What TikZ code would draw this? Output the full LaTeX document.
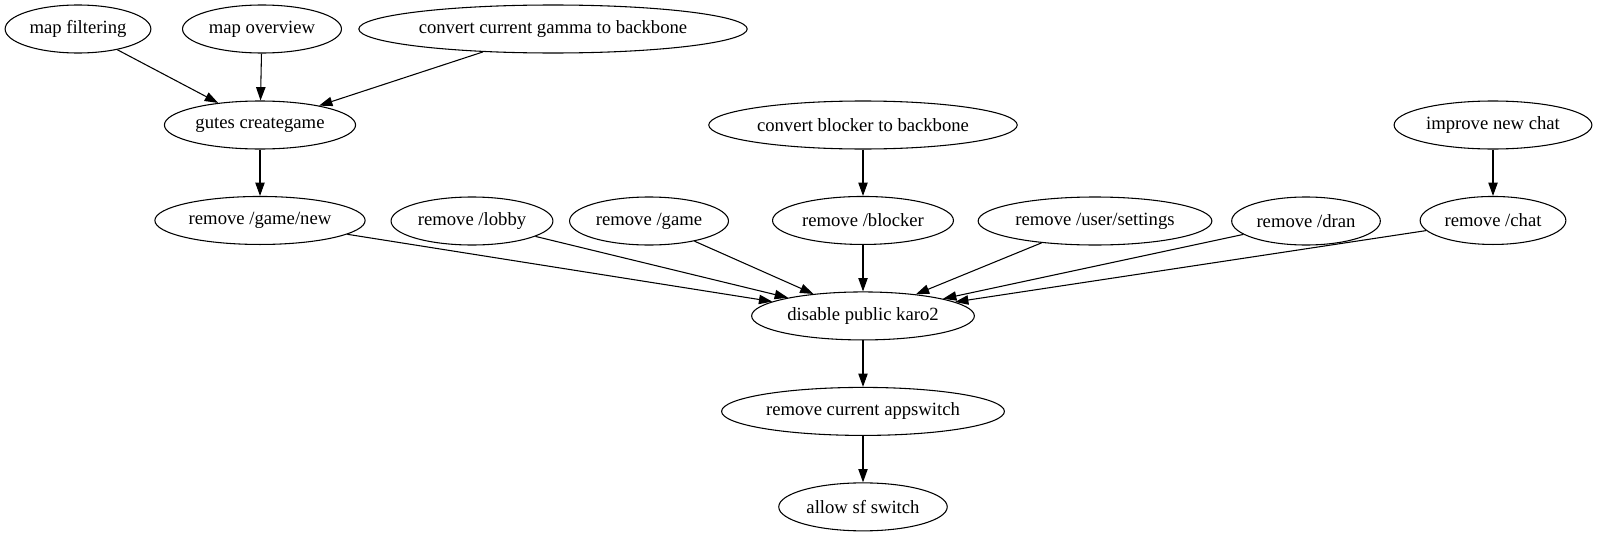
\documentclass[tikz,border=0pt]{standalone}
\usepackage{fontspec}
\setmainfont{Liberation Serif}
\usetikzlibrary{arrows.meta,positioning,shapes.geometric}
\tikzset{
  taskbox/.style={draw, ellipse, line width=0.8pt, inner xsep=2.3pt, inner ysep=1pt, minimum height=36pt, minimum width=54pt, font=\fontsize{14}{16}\selectfont},
  arrow/.style={-{Triangle[length=10pt, width=7pt]}, line width=0.8pt}
}
\begin{document}
\begin{tikzpicture}[x=0.75pt, y=-0.75pt, node distance=34.8pt]
  \useasboundingbox (0,0) rectangle (1599,539);
  \node[taskbox] (mapfilter) at (78,29) {map filtering};
  \node[taskbox] (mapview) at (262,29) {map overview};
  \node[taskbox] (gamma) at (553,29) {convert current gamma to backbone};
  \node[taskbox] (creategame) at (260,125) {gutes creategame};
  \node[taskbox] (blockerbb) at (863,125) {convert blocker to backbone};
  \node[taskbox] (newchat) at (1493,125) {improve new chat};
  \node[taskbox, below=of creategame] (rmgamenew) {remove /game/new};
  \node[taskbox] (rmlobby) at (472,221) {remove /lobby};
  \node[taskbox] (rmgame) at (649,221) {remove /game};
  \node[taskbox, below=of blockerbb] (rmblocker) {remove /blocker};
  \node[taskbox] (rmsettings) at (1095,221) {remove /user/settings};
  \node[taskbox] (rmdran) at (1306,221) {remove /dran};
  \node[taskbox, below=of newchat] (rmchat) {remove /chat};
  \node[taskbox, below=of rmblocker] (karo) {disable public karo2};
  \node[taskbox, below=of karo] (appswitch) {remove current appswitch};
  \node[taskbox, below=of appswitch] (sfswitch) {allow sf switch};

  \draw[arrow] (mapfilter) -- (creategame);
  \draw[arrow] (mapview) -- (creategame);
  \draw[arrow] (gamma) -- (creategame);
  \draw[arrow] (creategame) -- (rmgamenew);
  \draw[arrow] (blockerbb) -- (rmblocker);
  \draw[arrow] (newchat) -- (rmchat);
  \draw[arrow] (rmgamenew) -- (karo);
  \draw[arrow] (rmlobby) -- (karo);
  \draw[arrow] (rmgame) -- (karo);
  \draw[arrow] (rmblocker) -- (karo);
  \draw[arrow] (rmsettings) -- (karo);
  \draw[arrow] (rmdran) -- (karo);
  \draw[arrow] (rmchat) -- (karo);
  \draw[arrow] (karo) -- (appswitch);
  \draw[arrow] (appswitch) -- (sfswitch);
\end{tikzpicture}
\end{document}
